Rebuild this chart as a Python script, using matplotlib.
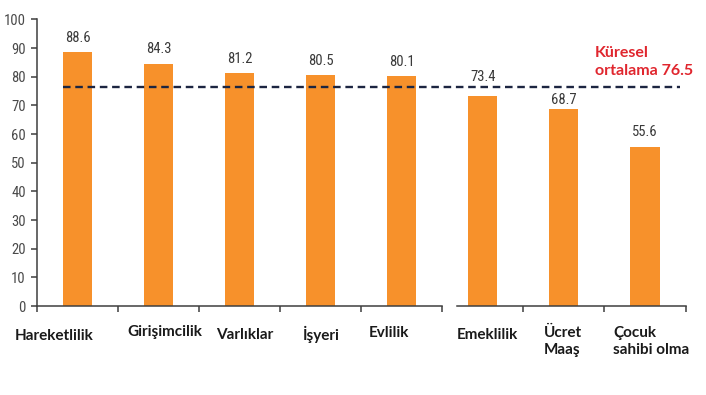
import matplotlib
matplotlib.use('Agg')
import matplotlib.pyplot as plt
from matplotlib import font_manager

categories = ['Hareketlilik', 'Girişimcilik', 'Varlıklar', 'İşyeri', 'Evlilik',
              'Emeklilik', 'Ücret\nMaaş', 'Çocuk\nsahibi olma']
values = [88.6, 84.3, 81.2, 80.5, 80.1, 73.4, 68.7, 55.6]
global_avg = 76.5
y_ticks = [0, 10, 20, 30, 40, 50, 60, 70, 80, 90, 100]

# label placement in figure pixels (left edge, vertical centre of first line)
label_pos = [(15, 335), (127, 331), (216, 334), (303, 332), (369, 332),
             (457, 334), (544, 332), (613, 332)]
# value label distance above bar top, pixels (hand placed in the original)
value_gap = [14, 15, 14.5, 14.5, 14.5, 18.5, 9, 14.5]

W, H = 706, 395
names = {f.name for f in font_manager.fontManager.ttflist}
narrow = 'DejaVu Sans'
for cand in ['Roboto Condensed', 'DejaVu Sans Condensed', 'Liberation Sans Narrow', 'Roboto']:
    if cand in names:
        narrow = cand
        break
bold_font = 'Lato'

fig = plt.figure(figsize=(W / 100, H / 100), dpi=100)
ax = fig.add_axes([37 / W, 1 - 306 / H, 648.5 / W, 286.6 / H])

orange = '#F7912B'
axis_col = '#3f3f3f'
x = list(range(len(values)))
bars = ax.bar(x, values, width=0.36, color=orange, zorder=2)

for bar, val, gap in zip(bars, values, value_gap):
    ax.annotate(f'{val:.1f}', (bar.get_x() + bar.get_width() / 2, bar.get_height()),
                xytext=(0, gap * 0.72), textcoords='offset points', ha='center',
                va='center', fontsize=10.5, family=narrow, color='#3a3a3a')

ax.plot([-0.18, 7.43], [global_avg, global_avg], color='#1c2541', lw=1.7,
        dashes=(3.2, 2.0), zorder=3)

ax.set_xlim(-0.5, 7.5)
ax.set_ylim(0, 100)
ax.set_yticks(y_ticks)
ax.set_yticklabels([str(t) for t in y_ticks], family=narrow, fontsize=10.5, color='#4a4a4a')
ax.set_xticks([-0.5, 0.5, 1.5, 2.5, 3.5, 4.5, 5.5, 6.5, 7.5])
ax.set_xticklabels([])
ax.tick_params(axis='both', direction='out', length=4, width=1.1, color=axis_col, pad=4)

for side in ['top', 'right', 'bottom']:
    ax.spines[side].set_visible(False)
ax.spines['left'].set_color(axis_col)
ax.spines['left'].set_linewidth(1.1)

# broken x axis line
ax.plot([-0.5, 4.5], [0, 0], color=axis_col, lw=1.1, clip_on=False, zorder=4)
ax.plot([4.68, 7.5], [0, 0], color=axis_col, lw=1.1, clip_on=False, zorder=4)

for name, (px, py) in zip(categories, label_pos):
    fig.text(px / W, 1 - (py - 6) / H, name, ha='left', va='top',
             fontsize=11, fontweight='bold', family=bold_font, color='#1a1a1a',
             linespacing=1.3)

fig.text(595 / W, 1 - 46 / H, 'Küresel\nortalama 76.5', ha='left', va='top',
         fontsize=11.5, fontweight='bold', family=bold_font, color='#e0262e',
         linespacing=1.4)

fig.savefig('out.png', dpi=100)
